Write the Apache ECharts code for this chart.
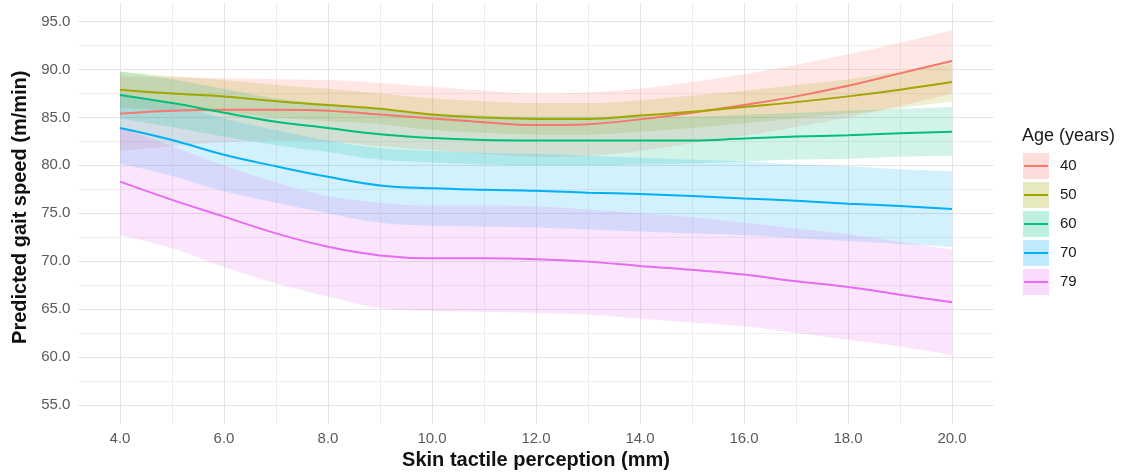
<!DOCTYPE html>
<html>
<head>
<meta charset="utf-8">
<script src="https://cdn.jsdelivr.net/npm/echarts@6/dist/echarts.min.js"></script>
<style>
  html, body { margin: 0; padding: 0; background: #fff; }
  #chart { width: 1126px; height: 472px; }
</style>
</head>
<body>
<div id="chart"></div>
<script>
// x positions (skin tactile perception, mm)
const xs = [4, 5, 6, 7, 8, 9, 10, 11, 12, 13, 14, 15, 16, 17, 18, 19, 20];

const ages = ["40", "50", "60", "70", "79"];
const colors = ["#F8766D", "#A3A500", "#00BF7D", "#00B0F6", "#E76BF3"];

// predicted gait speed + confidence band per age group
const fit40 = [85.4, 85.7, 85.8, 85.8, 85.7, 85.3, 84.9, 84.5, 84.2, 84.3, 84.8, 85.5, 86.3, 87.2, 88.3, 89.6, 90.9];
const lo40 = [81.5, 82.0, 82.4, 82.6, 82.5, 82.0, 81.6, 81.2, 80.9, 81.0, 81.5, 82.3, 83.1, 84.0, 85.0, 86.2, 87.5];
const hi40 = [89.3, 89.2, 89.1, 89.0, 88.9, 88.6, 88.2, 87.8, 87.5, 87.6, 88.0, 88.7, 89.5, 90.5, 91.6, 92.8, 94.1];

const fit50 = [87.9, 87.5, 87.2, 86.7, 86.3, 85.9, 85.3, 85.0, 84.85, 84.85, 85.2, 85.6, 86.1, 86.6, 87.2, 87.9, 88.7];
const lo50 = [86.0, 85.7, 85.5, 85.0, 84.6, 84.3, 83.7, 83.4, 83.2, 83.2, 83.5, 83.9, 84.4, 84.9, 85.4, 86.0, 86.7];
const hi50 = [89.8, 89.3, 88.9, 88.4, 88.0, 87.5, 87.0, 86.7, 86.5, 86.5, 86.8, 87.3, 87.8, 88.4, 89.0, 89.8, 90.6];

const fit60 = [87.35, 86.5, 85.5, 84.55, 83.9, 83.25, 82.85, 82.65, 82.6, 82.6, 82.6, 82.6, 82.8, 83.0, 83.15, 83.35, 83.5];
const lo60 = [84.9, 84.0, 83.0, 82.1, 81.4, 80.6, 80.3, 80.1, 80.0, 80.0, 80.1, 80.2, 80.4, 80.6, 80.7, 80.9, 81.0];
const hi60 = [89.8, 89.0, 88.0, 87.0, 86.4, 85.8, 85.4, 85.2, 85.1, 85.1, 85.1, 85.1, 85.3, 85.5, 85.7, 85.9, 86.1];

const fit70 = [83.9, 82.65, 81.1, 79.9, 78.8, 77.9, 77.6, 77.45, 77.35, 77.15, 77.0, 76.8, 76.55, 76.3, 76.0, 75.75, 75.45];
const lo70 = [80.2, 78.9, 77.3, 76.1, 75.0, 74.0, 73.7, 73.6, 73.5, 73.3, 73.1, 72.9, 72.7, 72.4, 72.1, 71.8, 71.5];
const hi70 = [87.5, 86.4, 84.9, 83.7, 82.6, 81.8, 81.5, 81.3, 81.2, 81.0, 80.8, 80.6, 80.4, 80.1, 79.9, 79.6, 79.4];

const fit79 = [78.3, 76.4, 74.65, 72.9, 71.5, 70.6, 70.3, 70.3, 70.2, 69.95, 69.5, 69.1, 68.6, 67.9, 67.3, 66.5, 65.7];
const lo79 = [72.7, 71.35, 69.4, 67.7, 66.3, 65.1, 64.8, 64.7, 64.6, 64.4, 64.0, 63.6, 63.2, 62.5, 61.8, 61.1, 60.2];
const hi79 = [83.9, 82.0, 80.0, 78.2, 76.8, 76.1, 75.8, 75.8, 75.7, 75.4, 75.0, 74.6, 74.0, 73.4, 72.8, 72.0, 71.2];

const fits = [fit40, fit50, fit60, fit70, fit79];
const lows = [lo40, lo50, lo60, lo70, lo79];
const highs = [hi40, hi50, hi60, hi70, hi79];

const FONT = "'Liberation Sans', Arial, sans-serif";
const BAND_ALPHA = 0.25;
const Y_MIN = 53;
const Y_MAX = 97;

function rgba(hex, a) {
  const n = parseInt(hex.slice(1), 16);
  return "rgba(" + (n >> 16) + "," + ((n >> 8) & 255) + "," + (n & 255) + "," + a + ")";
}

// splitLine colours cycle per tick: every 5th tick visible, alternating major / minor
const T = "rgba(0,0,0,0)";
const gridColors = [T, T, T, T, "#e4e4e4", T, T, T, T, "#eeeeee"];

const chart = echarts.init(document.getElementById("chart"));

// grid 0 = panel with the ggplot-style axes, grid 1 = data range 4..20 (category) for the marks
const series = [];
ages.forEach((age, i) => {
  // band: invisible lower bound + stacked width
  series.push({
    name: age,
    type: "line",
    xAxisIndex: 1,
    yAxisIndex: 1,
    stack: "band" + age,
    data: lows[i],
    symbol: "none",
    smooth: 0.4,
    lineStyle: { opacity: 0 },
    silent: true,
    z: 1
  });
  series.push({
    name: age,
    type: "line",
    xAxisIndex: 1,
    yAxisIndex: 1,
    stack: "band" + age,
    data: highs[i].map((h, j) => +(h - lows[i][j]).toFixed(3)),
    symbol: "none",
    smooth: 0.4,
    lineStyle: { opacity: 0 },
    areaStyle: { color: rgba(colors[i], BAND_ALPHA) },
    silent: true,
    z: 1
  });
});
ages.forEach((age, i) => {
  series.push({
    name: age,
    type: "line",
    xAxisIndex: 1,
    yAxisIndex: 1,
    data: fits[i],
    symbol: "none",
    smooth: 0.4,
    lineStyle: { color: colors[i], width: 2 },
    z: 3
  });
});

const option = {
  animation: false,
  textStyle: { fontFamily: FONT },
  grid: [
    { left: 78.4, right: 132.4, top: 2.5, bottom: 48, outerBoundsMode: "none" },
    { left: 120, right: 174, top: 2.5, bottom: 48, outerBoundsMode: "none" }
  ],
  title: {
    text: "Age (years)",
    left: 1022,
    top: 127,
    padding: 0,
    textStyle: { fontFamily: FONT, fontSize: 18, fontWeight: "normal", color: "#1a1a1a" }
  },
  legend: [
    {
      orient: "vertical",
      left: 1023,
      top: 153,
      padding: 0,
      itemWidth: 26,
      itemHeight: 26,
      itemGap: 3,
      icon: "rect",
      itemStyle: { borderWidth: 0 },
      textStyle: { fontFamily: FONT, fontSize: 15, color: "#1a1a1a", padding: [0, 0, 0, 6] },
      data: ages.map((a, i) => ({ name: a, itemStyle: { color: rgba(colors[i], BAND_ALPHA), borderWidth: 0 } }))
    },
    {
      orient: "vertical",
      left: 1024,
      top: 165,
      padding: 0,
      itemWidth: 24,
      itemHeight: 2,
      itemGap: 27,
      icon: "rect",
      itemStyle: { borderWidth: 0 },
      formatter: () => "",
      data: ages.map((a, i) => ({ name: a, itemStyle: { color: colors[i], borderWidth: 0 } }))
    }
  ],
  xAxis: [
    {
      type: "value",
      gridIndex: 0,
      min: 3.2,
      max: 20.8,
      interval: 0.2,
      name: "Skin tactile perception (mm)",
      nameLocation: "middle",
      nameGap: 24,
      nameTextStyle: { fontFamily: FONT, fontSize: 20, fontWeight: "bold", color: "#111" },
      axisLine: { show: false },
      axisTick: { show: false },
      axisLabel: {
        margin: 7,
        fontSize: 15,
        color: "#5a5a5a",
        fontFamily: FONT,
        formatter: (v) => {
          const r = Math.round(v);
          return Math.abs(v - r) < 1e-6 && r % 2 === 0 ? r.toFixed(1) : "";
        }
      },
      splitLine: { show: true, lineStyle: { color: gridColors, width: 1 } }
    },
    {
      type: "category",
      gridIndex: 1,
      data: xs.map(String),
      boundaryGap: false,
      show: false
    }
  ],
  yAxis: [
    {
      type: "value",
      gridIndex: 0,
      min: Y_MIN,
      max: Y_MAX,
      interval: 0.5,
      name: "Predicted gait speed (m/min)",
      nameLocation: "middle",
      nameGap: 44,
      nameTextStyle: { fontFamily: FONT, fontSize: 20, fontWeight: "bold", color: "#111", padding: [0, 0, 0, 12] },
      axisLine: { show: false },
      axisTick: { show: false },
      axisLabel: {
        margin: 8,
        fontSize: 15,
        color: "#5a5a5a",
        fontFamily: FONT,
        formatter: (v) => {
          const r = Math.round(v);
          return Math.abs(v - r) < 1e-6 && r % 5 === 0 ? r.toFixed(1) : "";
        }
      },
      splitLine: { show: true, lineStyle: { color: gridColors, width: 1 } }
    },
    {
      type: "value",
      gridIndex: 1,
      min: Y_MIN,
      max: Y_MAX,
      show: false,
      splitLine: { show: false }
    }
  ],
  series: series
};

chart.setOption(option);
</script>
</body>
</html>
